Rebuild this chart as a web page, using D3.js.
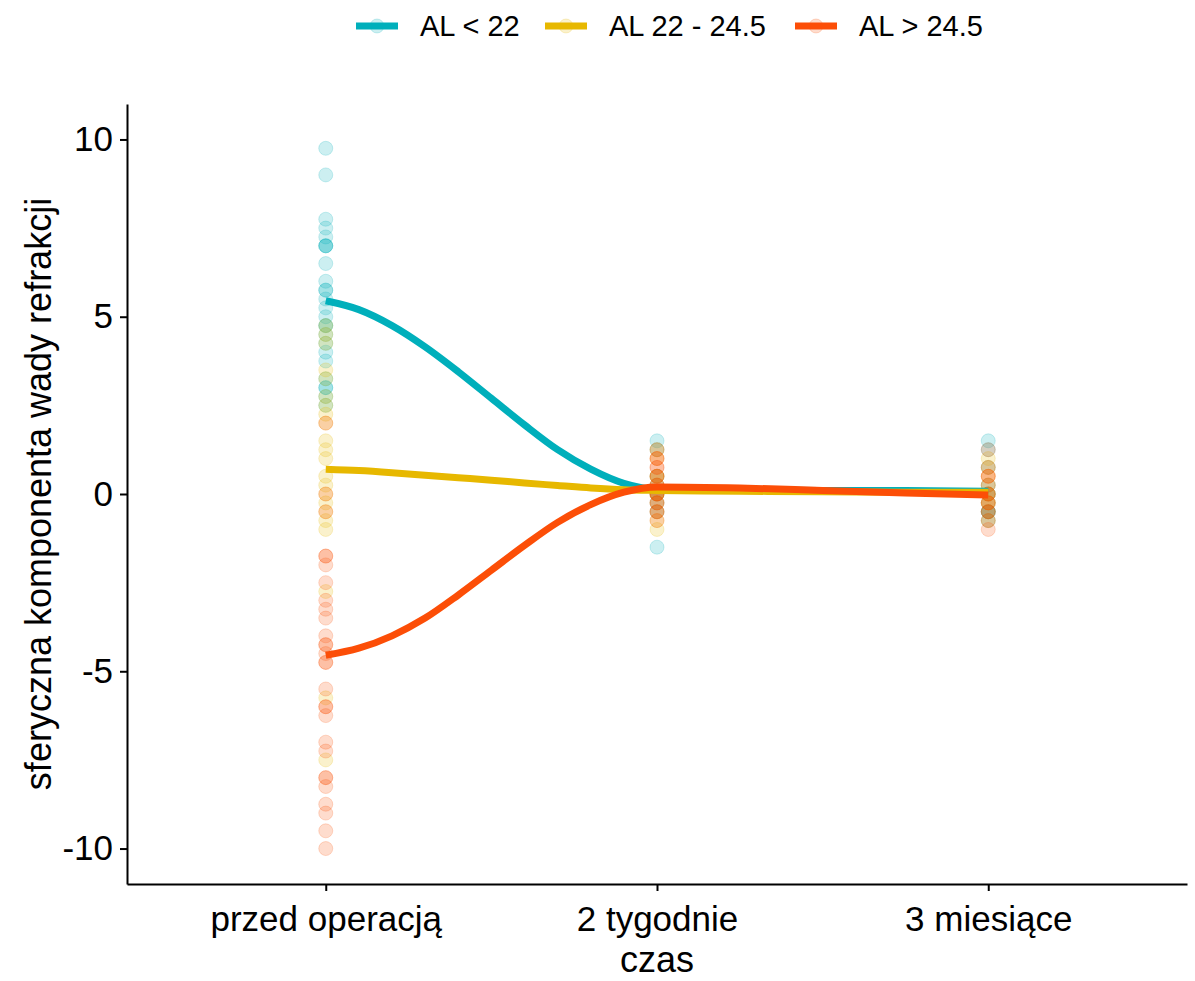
<!DOCTYPE html>
<html>
<head>
<meta charset="utf-8">
<script src="https://cdn.jsdelivr.net/npm/d3@7"></script>
<style>
  body { margin: 0; background: #fff; }
  text { font-family: "Liberation Sans", Arial, sans-serif; fill: #000; }
</style>
</head>
<body>
<div id="chart"></div>
<script>
// time points on the x axis
var categories = ["przed operacją", "2 tygodnie", "3 miesiące"];
var groups = ["AL < 22", "AL 22 - 24.5", "AL > 24.5"];
var colors = ["#00AFBB", "#E7B800", "#FC4E07"];
var yTicks = [-10, -5, 0, 5, 10];

// single measurements, one array per group and time point
var shortPre = [9.75, 9, 7.75, 7.5, 7.25, 7, 7, 7, 6.5, 6, 5.75, 5.75, 5.5, 5.25, 5, 4.75, 4.75, 4.5, 4.25, 4, 3.75, 3.25, 3, 3, 2.75, 2.5];
var short2w = [1.5, 1.25, 0.5, 0.25, 0, 0, -0.25, -0.5, -1.5];
var short3m = [1.5, 1.25, 0.75, 0.25, 0, 0, -0.25, -0.5, -0.5, -0.5, -0.75];

var midPre = [4.75, 4.5, 4.25, 3.5, 3.25, 2.75, 2.5, 2.25, 2, 1.5, 1.25, 1, 0.5, 0.25, 0, -0.25, -0.5, -0.75, -1, -2.75, -5.75, -7.5];
var mid2w = [1.25, 1, 0.5, 0.5, 0.25, 0, 0, -0.25, -0.5, -0.75, -1];
var mid3m = [1, 0.75, 0.5, 0.25, 0, 0, -0.25, -0.25, -0.5, -0.75];

var longPre = [2, 0, -0.5, -1.75, -1.75, -2, -2.5, -3, -3.25, -3.5, -4, -4.25, -4.25, -4.5, -4.75, -4.75, -5.5, -6, -6, -6.25, -7, -7.25, -8, -8, -8.25, -8.75, -9, -9.5, -10];
var long2w = [1.25, 1, 1, 0.75, 0.75, 0.5, 0.5, 0.25, 0.25, 0, 0, 0, -0.25, -0.25, -0.5, -0.5, -0.75];
var long3m = [1.25, 0.75, 0.5, 0.5, 0.25, 0, 0, -0.25, -0.25, -0.5, -0.5, -0.75, -1];

// smoothed trend lines at these x positions
var smoothX = [1, 1.1, 1.2, 1.3, 1.4, 1.5, 1.6, 1.7, 1.8, 1.9, 2, 2.25, 2.5, 2.75, 3];
var smoothShort = [5.45, 5.2, 4.75, 4.15, 3.45, 2.7, 1.95, 1.25, 0.7, 0.3, 0.13, 0.11, 0.1, 0.1, 0.08];
var smoothMid = [0.7, 0.66, 0.6, 0.53, 0.46, 0.39, 0.31, 0.24, 0.17, 0.12, 0.1, 0.08, 0.06, 0.05, 0.05];
var smoothLong = [-4.55, -4.35, -4.0, -3.5, -2.85, -2.15, -1.45, -0.8, -0.3, 0.05, 0.2, 0.17, 0.1, 0.03, -0.03];

var points = [[shortPre, short2w, short3m], [midPre, mid2w, mid3m], [longPre, long2w, long3m]];
var smooths = [smoothShort, smoothMid, smoothLong];

var width = 1195, height = 981;
var margin = {top: 104, right: 8, bottom: 97, left: 127};

var svg = d3.select("#chart").append("svg")
    .attr("width", width)
    .attr("height", height);

var x = d3.scaleLinear()
    .domain([0.4, 3.6])
    .range([margin.left, width - margin.right]);

var y = d3.scaleLinear()
    .domain([-11, 11])
    .range([height - margin.bottom, margin.top]);

// points first, lines on top (like the ggplot layers)
points.forEach(function(g, gi){
    g.forEach(function(vals, ti){
        svg.append("g").selectAll("circle")
        .data(vals)
        .enter()
        .append("circle")
        .attr("cx", x(ti + 1))
        .attr("cy", function(d) { return y(d); })
        .attr("r", 7)
        .attr("fill", colors[gi])
        .attr("fill-opacity", 0.2)
        .attr("stroke", colors[gi])
        .attr("stroke-opacity", 0.2)
        .attr("stroke-width", 1);
    });
});

var line = d3.line()
    .x(function(d, i) { return x(smoothX[i]); })
    .y(function(d) { return y(d); })
    .curve(d3.curveMonotoneX);

smooths.forEach(function(s, gi){
    svg.append("path")
    .datum(s)
    .attr("d", line)
    .attr("fill", "none")
    .attr("stroke", colors[gi])
    .attr("stroke-width", 7);
});

// axes
var xAxis = d3.axisBottom(x)
    .tickValues([1, 2, 3])
    .tickFormat(function(d) { return categories[d - 1]; })
    .tickSize(7)
    .tickSizeOuter(0)
    .tickPadding(15);

var gx = svg.append("g")
    .attr("transform", "translate(0," + (height - margin.bottom) + ")")
    .call(xAxis);

var yAxis = d3.axisLeft(y)
    .tickValues(yTicks)
    .tickFormat(function(d) { return String(d); }) // plain hyphen like the original
    .tickSize(7)
    .tickSizeOuter(0)
    .tickPadding(7);

var gy = svg.append("g")
    .attr("transform", "translate(" + margin.left + ",0)")
    .call(yAxis);

[gx, gy].forEach(function(g){
    g.select(".domain").attr("stroke", "#000").attr("stroke-width", 2);
    g.selectAll(".tick line").attr("stroke", "#000").attr("stroke-width", 2);
    g.selectAll(".tick text")
    .attr("font-size", 35)
    .attr("fill", "#000")
    .style("font-family", "'Liberation Sans', Arial, sans-serif");
});

svg.append("text")
    .attr("x", x(2))
    .attr("y", 972)
    .attr("text-anchor", "middle")
    .attr("font-size", 36)
    .text("czas");

svg.append("text")
    .attr("transform", "translate(51," + y(0) + ") rotate(-90)")
    .attr("text-anchor", "middle")
    .attr("font-size", 36)
    .text("sferyczna komponenta wady refrakcji");

// legend
var legendX = [356, 545, 795];
var legend = svg.append("g");
groups.forEach(function(name, i){
    var lx = legendX[i];
    legend.append("circle")
    .attr("cx", lx + 21)
    .attr("cy", 26)
    .attr("r", 7)
    .attr("fill", colors[i])
    .attr("fill-opacity", 0.2)
    .attr("stroke", colors[i])
    .attr("stroke-opacity", 0.2);
    legend.append("line")
    .attr("x1", lx)
    .attr("x2", lx + 42)
    .attr("y1", 26)
    .attr("y2", 26)
    .attr("stroke", colors[i])
    .attr("stroke-width", 7);
    legend.append("text")
    .attr("x", lx + 64)
    .attr("y", 36)
    .attr("font-size", 29)
    .text(name);
});
</script>
</body>
</html>
